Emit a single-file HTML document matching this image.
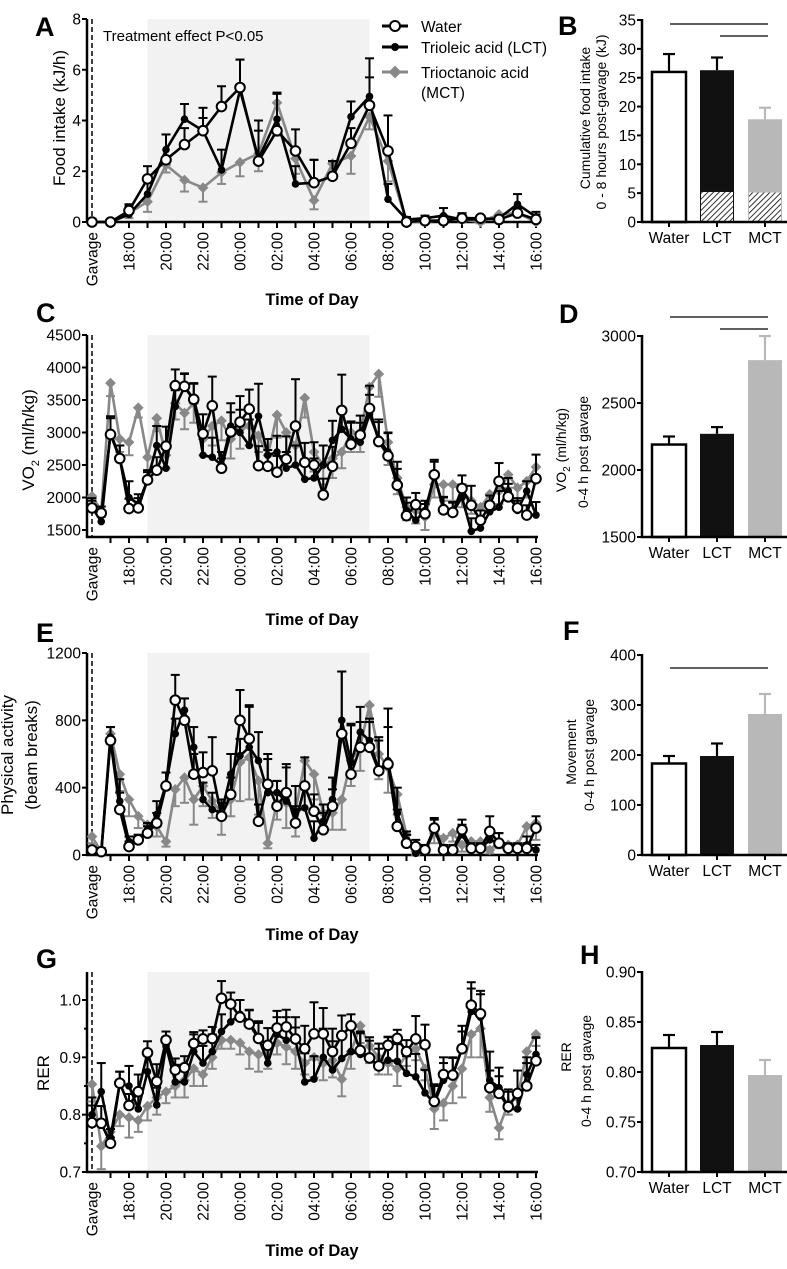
<!DOCTYPE html>
<html><head><meta charset="utf-8">
<style>
html,body{margin:0;padding:0;background:#fff;}
svg{display:block;font-family:"Liberation Sans",Arial,sans-serif;}
</style></head>
<body>
<svg id="fig" width="787" height="1269" viewBox="0 0 787 1269" xmlns="http://www.w3.org/2000/svg">
<defs>
<pattern id="hatch" patternUnits="userSpaceOnUse" width="4" height="4" patternTransform="rotate(45)">
<rect width="4" height="4" fill="#fff"/><line x1="0" y1="0" x2="0" y2="4" stroke="#000" stroke-width="1.6"/>
</pattern>
</defs>
<g id="static">
<text x="35" y="36" font-size="27" font-weight="bold">A</text>
<text x="36" y="322" font-size="27" font-weight="bold">C</text>
<text x="36" y="642" font-size="27" font-weight="bold">E</text>
<text x="36" y="968" font-size="27" font-weight="bold">G</text>
<text x="558" y="35" font-size="27" font-weight="bold">B</text>
<text x="559" y="323" font-size="27" font-weight="bold">D</text>
<text x="563" y="640" font-size="27" font-weight="bold">F</text>
<text x="580" y="964" font-size="27" font-weight="bold">H</text>
<text x="103" y="41" font-size="15">Treatment effect P&lt;0.05</text>
<g>
<g><line x1="382" y1="26" x2="408" y2="26" stroke="#000" stroke-width="3"/><circle cx="395" cy="26" r="5" fill="#fff" stroke="#000" stroke-width="2"/><text x="421" y="32" font-size="15.5">Water</text></g>
<g><line x1="382" y1="47" x2="408" y2="47" stroke="#000" stroke-width="3"/><circle cx="395" cy="47" r="4" fill="#000"/><text x="421" y="53" font-size="15.5">Trioleic acid (LCT)</text></g>
<g><line x1="382" y1="72" x2="408" y2="72" stroke="#888" stroke-width="3"/><rect x="390.5" y="67.5" width="9" height="9" fill="#888" transform="rotate(45 395 72)"/><text x="421" y="78" font-size="15.5">Trioctanoic acid</text><text x="421" y="98" font-size="15.5">(MCT)</text></g>
</g>
</g>
</svg>
<script>
// ---------- Time-series data ----------
const tickLabels = ["Gavage","18:00","20:00","22:00","00:00","02:00","04:00","06:00","08:00","10:00","12:00","14:00","16:00"];
// Panel A (hourly)
const foodWater = [0,0,0.45,1.7,2.45,3.05,3.6,4.55,5.3,2.4,3.6,2.8,1.55,1.8,3.1,4.6,2.8,0,0.05,0.05,0.15,0.15,0.1,0.35,0.1];
const foodLCT   = [0,0,0.3,1.1,2.85,4.05,3.6,2.05,5.2,2.5,4.05,1.5,1.55,1.8,4.15,4.95,0.9,0.1,0.15,0.25,0.1,0.1,0.15,0.7,0.2];
const foodMCT   = [0,0,0.35,0.8,2.25,1.65,1.35,1.95,2.35,2.7,4.7,2.5,0.85,2.3,2.6,4.15,2.4,0,0,0.1,0.1,0,0.3,0.35,0];
const foodWaterErr = [0,0,0.2,0.5,1.0,0.65,0.9,0.8,1.1,1.6,1.5,0.85,0.9,0.6,0.6,1.1,1.4,0.05,0.1,0.2,0.2,0.1,0.1,0.2,0.2];
const foodLCTErr   = [0,0,0.4,0.6,0.6,0.6,0.5,0.8,1.2,1.1,1.0,0.7,0.9,0.6,0.6,1.5,0.6,0.1,0.1,0.3,0.2,0.1,0.1,0.4,0.2];
const foodMCTErr   = [0,0,0.2,0.4,0.3,0.45,0.55,0.45,0.55,0.7,1.3,0.6,0.35,0.35,0.7,0.5,0.8,0,0,0.1,0.1,0.05,0.1,0.1,0];
// Panel C (half-hourly)
const vo2Water = [1840,1760,2970,2600,1830,1840,2270,2420,2790,3720,3710,3510,2980,3410,2450,3010,3160,3360,2490,2480,2390,2590,3100,2540,2500,2040,2480,3340,2820,2960,3370,2860,2640,2190,1720,1890,1750,2350,1810,1770,2140,1880,1650,1880,2250,2010,1840,1730,2290];
const vo2LCT   = [1850,1630,3000,2600,2000,1900,2270,2800,2450,3400,3700,3500,2650,2620,2500,3100,3000,2800,3250,2650,2700,2450,2500,2280,2300,2500,2880,3050,2900,2850,3280,2900,2700,2250,1800,1650,1800,2330,1850,1780,2000,1480,1530,1780,1850,2100,1800,2100,1730];
const vo2MCT   = [2020,1800,3760,2900,2850,3380,2620,3220,2650,3450,3300,3450,2900,3100,3180,2900,3050,3100,2950,2650,3270,3000,2800,3530,2700,2500,2600,2700,3000,3000,3700,3900,2850,2300,1850,1800,1700,2200,2200,2200,2100,1950,1850,2050,2100,2350,2150,2250,2470];
const vo2WaterErr = [150,100,250,200,150,150,120,200,300,250,200,250,300,450,150,300,400,300,300,250,250,350,720,300,350,250,300,550,350,300,350,300,350,250,200,180,150,200,200,150,200,300,150,150,280,200,150,150,370];
const vo2LCTErr   = [100,100,250,200,250,150,150,300,300,250,200,250,300,300,200,350,350,400,500,250,250,250,300,300,300,300,300,300,250,300,300,300,300,300,200,200,150,250,150,150,200,200,150,150,250,200,150,150,200];
const vo2MCTErr   = [200,100,200,200,200,150,200,200,200,250,250,300,250,300,300,300,300,300,250,200,350,300,300,300,300,300,300,250,300,300,300,350,350,250,200,200,200,200,250,250,250,200,200,200,200,200,200,250,200];
// Panel E
const actWater = [30,20,680,270,50,90,130,190,410,920,800,480,490,500,230,360,800,690,200,420,290,370,190,410,260,150,290,720,480,640,640,500,540,170,70,50,30,160,30,30,150,40,40,140,70,40,40,40,160];
const actLCT   = [30,20,700,320,80,90,150,240,420,720,860,640,330,270,250,480,590,640,560,370,370,320,260,280,100,200,330,800,550,730,680,500,560,250,90,10,20,150,20,30,120,30,40,90,70,40,40,60,30];
const actMCT   = [110,20,720,480,330,230,180,170,80,390,460,330,410,320,250,330,550,580,440,70,310,310,260,560,480,250,250,330,560,650,890,600,520,360,120,20,30,130,100,130,60,80,80,30,80,60,60,170,190];
const actWaterErr = [20,20,80,100,30,30,40,60,80,150,130,120,120,200,80,100,180,190,100,180,150,170,100,170,100,100,100,370,300,150,150,200,330,100,50,40,30,60,30,30,60,30,30,90,60,30,30,30,70];
const actLCTErr   = [20,20,60,130,30,30,40,80,70,90,70,120,100,100,80,120,100,250,170,200,70,200,150,130,100,100,130,290,220,150,130,180,200,150,50,30,30,60,20,20,60,20,20,60,60,20,20,50,30];
const actMCTErr   = [40,20,60,100,100,70,50,60,30,100,150,150,120,100,130,100,230,250,200,30,100,150,150,150,150,80,100,180,150,150,200,150,150,120,50,20,20,60,50,50,40,40,40,20,40,40,40,60,100];
// Panel G
const rerWater = [.786,.785,.750,.855,.816,.84,.908,.858,.930,.878,.882,.924,.932,.933,1.003,.993,.970,.958,.933,.921,.951,.953,.932,.915,.941,.941,.910,.938,.955,.912,.899,.885,.921,.933,.910,.932,.922,.823,.870,.869,.915,.991,.976,.847,.837,.814,.837,.850,.894];
const rerLCT   = [.80,.84,.76,.855,.85,.81,.875,.817,.92,.857,.857,.91,.89,.91,.945,.962,.975,.962,.935,.89,.94,.93,.93,.857,.862,.90,.878,.898,.91,.905,.90,.884,.895,.893,.872,.866,.838,.82,.86,.87,.915,.98,.97,.86,.847,.81,.81,.87,.905];
const rerMCT   = [.853,.745,.77,.80,.795,.79,.815,.83,.84,.85,.86,.88,.87,.90,.93,.93,.925,.91,.905,.91,.925,.918,.91,.89,.90,.89,.895,.862,.91,.955,.92,.9,.89,.88,.905,.915,.88,.81,.82,.85,.88,.94,.95,.83,.777,.82,.83,.91,.94];
const rerWaterErr = [.03,.03,.01,.02,.02,.03,.02,.03,.015,.02,.02,.02,.015,.02,.03,.02,.03,.025,.03,.03,.03,.03,.02,.04,.055,.045,.04,.035,.02,.03,.03,.03,.015,.015,.02,.04,.035,.03,.03,.03,.03,.04,.04,.03,.03,.03,.04,.04,.04];
const rerLCTErr   = [.03,.05,.015,.02,.035,.035,.03,.03,.015,.03,.03,.03,.03,.03,.03,.03,.025,.02,.025,.03,.03,.04,.04,.05,.04,.05,.05,.04,.04,.04,.035,.04,.04,.03,.03,.04,.04,.03,.03,.03,.04,.04,.04,.05,.035,.03,.03,.03,.03];
const rerMCTErr   = [.03,.04,.02,.02,.035,.02,.025,.03,.02,.02,.03,.03,.02,.02,.015,.015,.02,.03,.03,.03,.02,.03,.03,.02,.035,.03,.03,.03,.03,.03,.03,.03,.02,.03,.02,.02,.02,.035,.03,.03,.05,.04,.05,.025,.02,.02,.02,.02,.02];
// ---------- Bar data ----------
const barCategories = ["Water","LCT","MCT"];
const cumFood = [26.0,26.3,17.8];
const cumFoodErr = [3.1,2.2,2.0];
const cumFoodHatch = [0,5.2,5.1];
const vo2Bar = [2190,2270,2820];
const vo2BarErr = [60,50,180];
const moveBar = [183,198,282];
const moveBarErr = [15,25,40];
const rerBar = [0.824,0.827,0.797];
const rerBarErr = [0.013,0.013,0.015];
const foodTicks = [0,2,4,6,8];
const vo2Ticks = [1500,2000,2500,3000,3500,4000,4500];
const actTicks = [0,400,800,1200];
const rerTicks = [0.7,0.8,0.9,1.0];
const cumTicks = [0,5,10,15,20,25,30,35];
const vo2BarTicks = [1500,2000,2500,3000];
const moveTicks = [0,100,200,300,400];
const rerBarTicks = [0.70,0.75,0.80,0.85,0.90];

const NS="http://www.w3.org/2000/svg";
const svg=document.getElementById('fig');
function mk(tag,attrs,parent){const e=document.createElementNS(NS,tag);for(const k in attrs)e.setAttribute(k,attrs[k]);(parent||svg).appendChild(e);return e;}

const X0=92, HOUR=18.5, AX=87;
function drawTS(p){
  const g=mk('g',{});
  
  
  const ys=v=>p.py0+(v-p.v0)*(p.py1-p.py0)/(p.v1-p.v0);
  const xs=i=>X0+i*HOUR*p.step;
  const sh=mk('rect',{x:X0+3*HOUR,y:p.top,width:12*HOUR,height:p.bottom-p.top,fill:'#f2f2f2'},g);
  
  
  const ya=mk('line',{x1:AX,y1:p.top,x2:AX,y2:p.bottom+1,stroke:'#000','stroke-width':2.5},g);
  
  
  const xa=mk('line',{x1:AX-1,y1:p.bottom,x2:X0+24*HOUR+2,y2:p.bottom,stroke:'#000','stroke-width':2.5},g);
  
  
  p.ticks.forEach(t=>{
    const y=ys(t);
    mk('line',{x1:AX-5,y1:y,x2:AX,y2:y,stroke:'#000','stroke-width':2},g);
    const tx=mk('text',{x:AX-6,y:y+5.5,'font-size':15.5,'text-anchor':'end'},g);
    tx.textContent=p.fmt?p.fmt(t):t;
    
    
  });
  if(p.minor){p.minor.forEach(t=>{const y=ys(t);mk('line',{x1:AX-3,y1:y,x2:AX,y2:y,stroke:'#000','stroke-width':2},g);});}
  for(let h=1;h<=24;h++){mk('line',{x1:X0+h*HOUR,y1:p.bottom,x2:X0+h*HOUR,y2:p.bottom+6,stroke:'#000','stroke-width':2},g);}
  tickLabels.forEach((l,k)=>{
    const h=k===0?0:k*2;
    const x=X0+h*HOUR+5.5, y=p.bottom+10;
    const tx=mk('text',{x:x,y:y,'font-size':15.5,'text-anchor':'end',transform:`rotate(-90 ${x} ${y})`},g);
    tx.textContent=l;
    
    
  });
  const xt=mk('text',{x:312,y:p.bottom+p.tod,'font-size':16.5,'font-weight':'bold','text-anchor':'middle'},g);
  xt.textContent='Time of Day';
  
  
  mk('line',{x1:X0,y1:p.top,x2:X0,y2:p.bottom,stroke:'#000','stroke-width':1.5,'stroke-dasharray':'5,3'},g);
  p.ytitle.forEach(t=>{
    const tx=mk('text',{x:t.x,y:p.ymid,'font-size':17,'text-anchor':'middle',transform:`rotate(-90 ${t.x} ${p.ymid})`},g);
    if(t.sub){tx.textContent=t.a;const s=mk('tspan',{'font-size':11,dy:5},tx);s.textContent=t.sub;const r=mk('tspan',{dy:-5},tx);r.textContent=t.b;}
    else tx.textContent=t.a;
    
    
  });
  const series=[
    {v:p.mct,e:p.mctE,c:'#888',dir:1,m:'d',n:'mct'},
    {v:p.lct,e:p.lctE,c:'#000',dir:-1,m:'f',n:'lct'},
    {v:p.water,e:p.waterE,c:'#000',dir:-1,m:'o',n:'water'}];
  series.forEach(s=>{
    const sg=mk('g',{},g);
    
    
    s.v.forEach((v,i)=>{
      const x=xs(i),y=ys(v),ye=ys(v+(s.dir<0?s.e[i]:-s.e[i]));
      mk('line',{x1:x,y1:y,x2:x,y2:ye,stroke:s.c,'stroke-width':2},sg);
      mk('line',{x1:x-4.5,y1:ye,x2:x+4.5,y2:ye,stroke:s.c,'stroke-width':2},sg);
    });
    const pts=s.v.map((v,i)=>xs(i).toFixed(1)+','+ys(v).toFixed(1)).join(' ');
    const pl=mk('polyline',{points:pts,fill:'none',stroke:s.c,'stroke-width':2.6,'stroke-linejoin':'round'},sg);
    
    
    s.v.forEach((v,i)=>{
      const x=xs(i),y=ys(v);let m;
      if(s.m==='o')m=mk('circle',{cx:x,cy:y,r:4.8,fill:'#fff',stroke:'#000','stroke-width':2},sg);
      else if(s.m==='f')m=mk('circle',{cx:x,cy:y,r:3.8,fill:'#000'},sg);
      else m=mk('rect',{x:x-3.8,y:y-3.8,width:7.6,height:7.6,fill:'#888',transform:`rotate(45 ${x} ${y})`},sg);
      
      
    });
  });
}

drawTS({name:'panel-a-food-intake',step:1,py0:222,v0:0,py1:19,v1:8,top:19,bottom:222,tod:83,ticks:foodTicks,
  water:foodWater,lct:foodLCT,mct:foodMCT,waterE:foodWaterErr,lctE:foodLCTErr,mctE:foodMCTErr,
  ymid:118,ytitle:[{x:65,a:'Food intake (kJ/h)'}]});
drawTS({name:'panel-c-vo2',step:0.5,py0:530,v0:1500,py1:335,v1:4500,top:335,bottom:537,tod:88,ticks:vo2Ticks,
  water:vo2Water,lct:vo2LCT,mct:vo2MCT,waterE:vo2WaterErr,lctE:vo2LCTErr,mctE:vo2MCTErr,
  ymid:440,ytitle:[{x:34,a:'VO',sub:'2',b:' (ml/h/kg)'}]});
drawTS({name:'panel-e-activity',step:0.5,py0:855,v0:0,py1:653,v1:1200,top:653,bottom:855,tod:85,ticks:actTicks,
  water:actWater,lct:actLCT,mct:actMCT,waterE:actWaterErr,lctE:actLCTErr,mctE:actMCTErr,
  ymid:755,ytitle:[{x:13,a:'Physical activity'},{x:37,a:'(beam breaks)'}]});
drawTS({name:'panel-g-rer',step:0.5,py0:1172,v0:0.7,py1:1000,v1:1.0,top:972,bottom:1172,tod:84,ticks:rerTicks,fmt:t=>t.toFixed(1),minor:[0.75,0.85,0.95],
  water:rerWater,lct:rerLCT,mct:rerMCT,waterE:rerWaterErr,lctE:rerLCTErr,mctE:rerMCTErr,
  ymid:1073,ytitle:[{x:49,a:'RER'}]});

// ---------- Bar panels ----------
const BX=[[652,686],[700,734],[748,782]], BA=642;
function drawBar(p){
  const g=mk('g',{});
  
  
  const ys=v=>p.py0+(v-p.v0)*(p.py1-p.py0)/(p.v1-p.v0);
  const fills=['#fff','#111','#b8b8b8'], strokes=['#000','#111','none'], ecol=['#000','#000','#b8b8b8'];
  p.vals.forEach((v,i)=>{
    const [x1,x2]=BX[i], cx=(x1+x2)/2, yb=ys(p.v0), yt=ys(v), ye=ys(v+p.errs[i]);
    mk('line',{x1:cx,y1:yt,x2:cx,y2:ye,stroke:ecol[i],'stroke-width':2.2},g);
    mk('line',{x1:cx-6,y1:ye,x2:cx+6,y2:ye,stroke:ecol[i],'stroke-width':2.2},g);
    const r=mk('rect',{x:x1,y:yt,width:x2-x1,height:yb-yt,fill:fills[i],stroke:strokes[i],'stroke-width':i===0?2.5:0},g);
    
    
    if(p.hatch&&p.hatch[i]>0){
      const h=mk('rect',{x:x1+1,y:ys(p.hatch[i]),width:x2-x1-2,height:yb-ys(p.hatch[i]),fill:'url(#hatch)'},g);
      
      
    }
    mk('line',{x1:cx,y1:yb,x2:cx,y2:yb+5,stroke:'#000','stroke-width':2},g);
    const tx=mk('text',{x:cx,y:yb+21,'font-size':15.5,'text-anchor':'middle'},g);
    tx.textContent=barCategories[i];
    
    
  });
  mk('line',{x1:BA,y1:ys(p.v1)-1,x2:BA,y2:ys(p.v0)+1,stroke:'#000','stroke-width':2.5},g);
  mk('line',{x1:BA-1,y1:ys(p.v0),x2:787,y2:ys(p.v0),stroke:'#000','stroke-width':2.5},g);
  p.ticks.forEach(t=>{
    const y=ys(t);
    mk('line',{x1:BA-5,y1:y,x2:BA,y2:y,stroke:'#000','stroke-width':2},g);
    const tx=mk('text',{x:BA-6,y:y+5.5,'font-size':15.5,'text-anchor':'end'},g);
    tx.textContent=p.fmt?p.fmt(t):t;
    
    
  });
  (p.sig||[]).forEach(s=>{
    const l=mk('line',{x1:s[0],y1:s[2],x2:s[1],y2:s[2],stroke:'#000','stroke-width':1.2},g);
    
    
  });
  p.ytitle.forEach(t=>{
    const tx=mk('text',{x:t.x,y:t.y,'font-size':14,'text-anchor':'middle',transform:`rotate(-90 ${t.x} ${t.y})`},g);
    if(t.sub){tx.textContent=t.a;const s=mk('tspan',{'font-size':10,dy:4},tx);s.textContent=t.sub;const r=mk('tspan',{dy:-4},tx);r.textContent=t.b;}
    else tx.textContent=t.a;
    
    
  });
}
drawBar({name:'panel-b-cumulative-food',py0:222,v0:0,py1:20,v1:35,ticks:cumTicks,vals:cumFood,errs:cumFoodErr,hatch:cumFoodHatch,
  sig:[[670,768,24],[720,768,36]],ytitle:[{x:590,y:118,a:'Cumulative food intake'},{x:606,y:122,a:'0 - 8 hours post-gavage (kJ)'}]});
drawBar({name:'panel-d-vo2-bar',py0:537,v0:1500,py1:336,v1:3000,ticks:vo2BarTicks,vals:vo2Bar,errs:vo2BarErr,
  sig:[[670,768,317],[720,768,329]],ytitle:[{x:566,y:450,a:'VO',sub:'2',b:' (ml/h/kg)'},{x:588,y:452,a:'0-4 h post gavage'}]});
drawBar({name:'panel-f-movement-bar',py0:855,v0:0,py1:655,v1:400,ticks:moveTicks,vals:moveBar,errs:moveBarErr,
  sig:[[670,768,668]],ytitle:[{x:576,y:752,a:'Movement'},{x:594,y:755,a:'0-4 h post gavage'}]});
drawBar({name:'panel-h-rer-bar',py0:1172,v0:0.70,py1:972,v1:0.90,ticks:rerBarTicks,fmt:t=>t.toFixed(2),vals:rerBar,errs:rerBarErr,
  ytitle:[{x:571,y:1057,a:'RER'},{x:591,y:1071,a:'0-4 h post gavage'}]});

svg.appendChild(document.getElementById('static'));
</script>
</body></html>
